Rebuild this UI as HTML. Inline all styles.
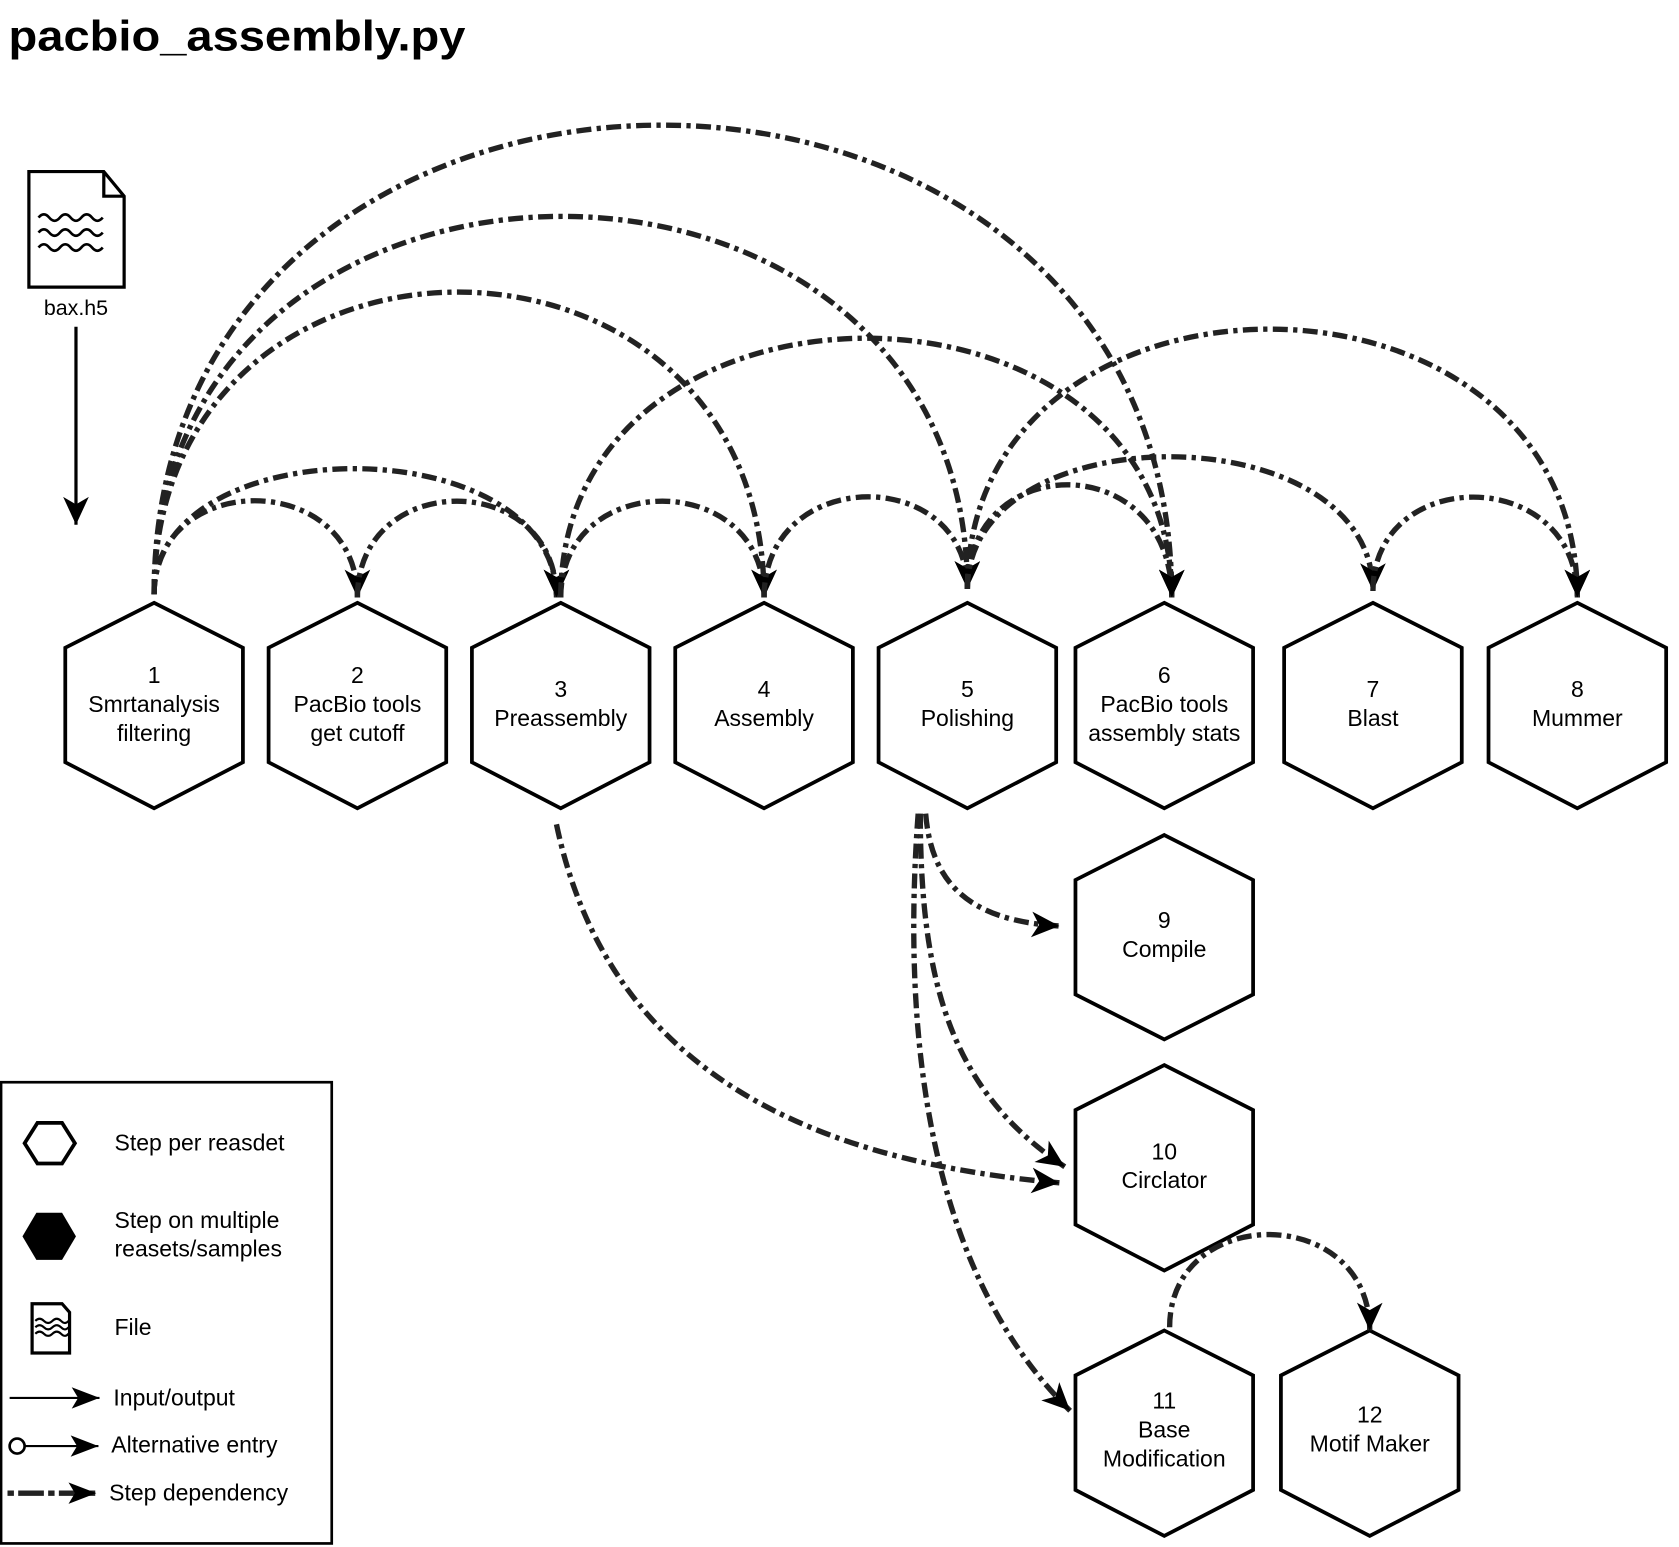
<!DOCTYPE html>
<html><head><meta charset="utf-8"><style>
html,body{margin:0;padding:0;background:#fff;}
svg{display:block;}
text{font-family:"Liberation Sans",sans-serif;fill:#000;}
</style></head><body>
<svg width="1679" height="1547" viewBox="0 0 1569 1445" xmlns="http://www.w3.org/2000/svg">
<defs>
<marker id="ah" markerUnits="userSpaceOnUse" markerWidth="30" markerHeight="30" refX="26" refY="12" orient="auto">
<path d="M0,0 L26,12 L0,24 L7,12 Z" fill="#000"/>
</marker>
<marker id="as" markerUnits="userSpaceOnUse" markerWidth="30" markerHeight="30" refX="26" refY="10" orient="auto">
<path d="M0,0 L26,10 L0,20 L6,10 Z" fill="#000"/>
</marker>
</defs>
<rect width="1569" height="1445" fill="#fff"/>
<text x="8" y="47" font-size="40" font-weight="bold" textLength="427" lengthAdjust="spacingAndGlyphs">pacbio_assembly.py</text>

<!-- file icon -->
<path d="M27,160 L97,160 L116,183 L116,268 L27,268 Z" fill="#fff" stroke="#000" stroke-width="3"/>
<path d="M97,160 L97,183 L116,183" fill="none" stroke="#000" stroke-width="3"/>
<g fill="none" stroke="#000" stroke-width="2.5">
<path d="M36,203 q5,-6 10,0 t10,0 t10,0 t10,0 t10,0 t10,0"/>
<path d="M36,217 q5,-6 10,0 t10,0 t10,0 t10,0 t10,0 t10,0"/>
<path d="M36,231 q5,-6 10,0 t10,0 t10,0 t10,0 t10,0 t10,0"/>
</g>
<text x="71" y="294" font-size="20" text-anchor="middle">bax.h5</text>
<line x1="71" y1="305" x2="71" y2="490" stroke="#000" stroke-width="3" marker-end="url(#ah)"/>

<!-- hexagons -->
<g fill="#fff" stroke="#000" stroke-width="3.5">
<polygon points="144,563 227,605 227,712 144,755 61,712 61,605"/>
<polygon points="334,563 417,605 417,712 334,755 251,712 251,605"/>
<polygon points="524,563 607,605 607,712 524,755 441,712 441,605"/>
<polygon points="714,563 797,605 797,712 714,755 631,712 631,605"/>
<polygon points="904,563 987,605 987,712 904,755 821,712 821,605"/>
<polygon points="1088,563 1171,605 1171,712 1088,755 1005,712 1005,605"/>
<polygon points="1283,563 1366,605 1366,712 1283,755 1200,712 1200,605"/>
<polygon points="1474,563 1557,605 1557,712 1474,755 1391,712 1391,605"/>
<polygon points="1088,780 1171,822 1171,929 1088,971 1005,929 1005,822"/>
<polygon points="1088,995 1171,1037 1171,1144 1088,1187 1005,1144 1005,1037"/>
<polygon points="1088,1243 1171,1285 1171,1392 1088,1435 1005,1392 1005,1285"/>
<polygon points="1280,1243 1363,1285 1363,1392 1280,1435 1197,1392 1197,1285"/>
</g>
<g font-size="21.5" text-anchor="middle">
<text x="144" y="638">1</text><text x="144" y="665">Smrtanalysis</text><text x="144" y="692">filtering</text>
<text x="334" y="638">2</text><text x="334" y="665">PacBio tools</text><text x="334" y="692">get cutoff</text>
<text x="524" y="651">3</text><text x="524" y="678">Preassembly</text>
<text x="714" y="651">4</text><text x="714" y="678">Assembly</text>
<text x="904" y="651">5</text><text x="904" y="678">Polishing</text>
<text x="1088" y="638">6</text><text x="1088" y="665">PacBio tools</text><text x="1088" y="692">assembly stats</text>
<text x="1283" y="651">7</text><text x="1283" y="678">Blast</text>
<text x="1474" y="651">8</text><text x="1474" y="678">Mummer</text>
<text x="1088" y="867">9</text><text x="1088" y="894">Compile</text>
<text x="1088" y="1083">10</text><text x="1088" y="1110">Circlator</text>
<text x="1088" y="1316">11</text><text x="1088" y="1343">Base</text><text x="1088" y="1370">Modification</text>
<text x="1280" y="1329">12</text><text x="1280" y="1356">Motif Maker</text>
</g>

<!-- dependencies -->
<g fill="none" stroke="#222" stroke-width="5" stroke-dasharray="14 5 4 5" marker-end="url(#ah)">
<path d="M144,555 C144,438 334,438 334,558"/>
<path d="M144,555 C144,398 520,398 520,558"/>
<path d="M144,555 C144,178 714,178 714,558"/>
<path d="M144,555 C144,85 904,85 904,550"/>
<path d="M144,555 C144,-30 1095,-30 1095,558"/>
<path d="M334,558 C334,438 520,438 520,558"/>
<path d="M524,558 C524,438 714,438 714,558"/>
<path d="M524,558 C524,235 1095,235 1095,558"/>
<path d="M714,558 C714,434 904,434 904,550"/>
<path d="M904,550 C904,419 1095,419 1095,558"/>
<path d="M904,550 C904,385 1283,385 1283,552"/>
<path d="M904,550 C904,225 1474,225 1474,558"/>
<path d="M1283,552 C1283,434 1474,434 1474,558"/>
<path d="M1093,1240 C1093,1124 1280,1124 1280,1243"/>
<path d="M520,770 C560,960 700,1080 990,1105"/>
<path d="M865,760 C870,820 900,860 990,865"/>
<path d="M860,760 C860,920 890,1020 995,1090"/>
<path d="M858,760 C840,1000 880,1200 1000,1318"/>
</g>

<!-- legend -->
<rect x="1" y="1011" width="309" height="431" fill="none" stroke="#000" stroke-width="2.5"/>
<polygon points="23,1068 35,1049 58,1049 70,1068 58,1087 35,1087" fill="#fff" stroke="#000" stroke-width="3.5"/>
<polygon points="21,1155 34,1133 58,1133 71,1155 58,1177 34,1177" fill="#000"/>
<path d="M30,1218 L58,1218 L65,1226 L65,1264 L30,1264 Z" fill="#fff" stroke="#000" stroke-width="3"/>
<g fill="none" stroke="#000" stroke-width="2">
<path d="M33,1234 q4,-4 8,0 t8,0 t8,0 t7,0"/>
<path d="M33,1240 q4,-4 8,0 t8,0 t8,0 t7,0"/>
<path d="M33,1246 q4,-4 8,0 t8,0 t8,0 t7,0"/>
</g>
<g font-size="21.5">
<text x="107" y="1075">Step per reasdet</text>
<text x="107" y="1147">Step on multiple</text>
<text x="107" y="1174">reasets/samples</text>
<text x="107" y="1247">File</text>
<text x="106" y="1313">Input/output</text>
<text x="104" y="1357">Alternative entry</text>
<text x="102" y="1402">Step dependency</text>
</g>
<line x1="9" y1="1306" x2="93" y2="1306" stroke="#000" stroke-width="2" marker-end="url(#as)"/>
<circle cx="16" cy="1351" r="7" fill="#fff" stroke="#000" stroke-width="2.5"/>
<line x1="23" y1="1351" x2="92" y2="1351" stroke="#000" stroke-width="2" marker-end="url(#as)"/>
<line x1="7" y1="1395" x2="90" y2="1395" stroke="#222" stroke-width="5" stroke-dasharray="6 4 24 4" marker-end="url(#as)"/>
</svg>
</body></html>
